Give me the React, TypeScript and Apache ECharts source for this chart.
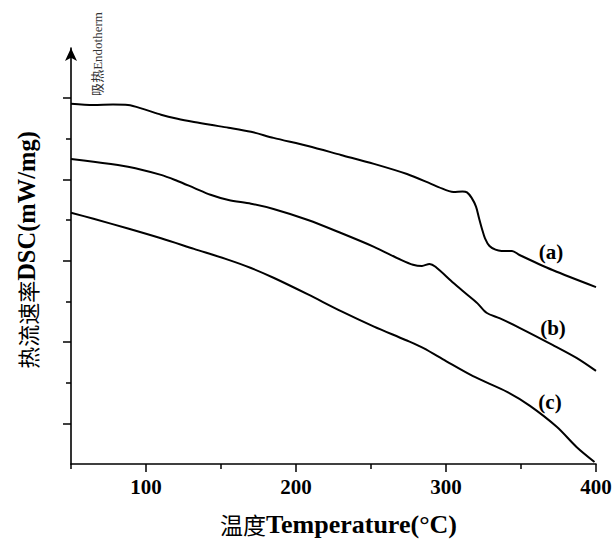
import React, { useEffect, useRef } from "react";
import * as echarts from "echarts";

const seriesNames = ["(a)", "(b)", "(c)"];

const curveA: [number, number][] = [
  [50, 8.86], [65, 8.83], [78, 8.84], [88, 8.83], [99, 8.72], [110, 8.59], [121, 8.49],
  [132, 8.41], [143, 8.34], [155, 8.27], [170, 8.17], [185, 8.02], [208, 7.82],
  [230, 7.6], [252, 7.38], [274, 7.13], [290, 6.89], [295, 6.81], [305, 6.69],
  [311, 6.7], [314, 6.68], [317, 6.55], [320, 6.33], [322, 6.05], [324, 5.78],
  [326, 5.55], [329, 5.36], [333, 5.27], [337, 5.24], [344, 5.24], [349, 5.14],
  [371, 4.77], [400, 4.35],
];

const curveB: [number, number][] = [
  [50, 7.5], [65, 7.43], [88, 7.31], [110, 7.11], [121, 6.96], [132, 6.79],
  [143, 6.62], [155, 6.49], [170, 6.4], [185, 6.27], [208, 6.0], [230, 5.68],
  [252, 5.34], [270, 5.02], [278, 4.9], [284, 4.87], [289, 4.92], [293, 4.85],
  [305, 4.45], [314, 4.17], [321, 3.95], [327, 3.72], [336, 3.58], [349, 3.35],
  [371, 2.93], [387, 2.61], [400, 2.29],
];

const curveC: [number, number][] = [
  [50, 6.18], [65, 6.03], [88, 5.79], [110, 5.55], [132, 5.29], [155, 5.02],
  [170, 4.82], [185, 4.58], [208, 4.17], [230, 3.76], [252, 3.38], [273, 3.05],
  [285, 2.85], [300, 2.53], [318, 2.16], [341, 1.77], [356, 1.43], [374, 0.91],
  [387, 0.42], [399, 0.05],
];

const xMajorTicks = [100, 200, 300, 400];
const xMinorTicks = [50, 150, 250, 350];
const yMajorTicks = [1, 3, 5, 7, 9];
const yMinorTicks = [2, 4, 6, 8];

const labelPos: [number, number][] = [
  [551, 252],
  [553, 328],
  [550, 402],
];

const SERIF = "'Liberation Serif', 'Times New Roman', serif";
const CJK = "'Noto Sans CJK SC', sans-serif";

export default function App() {
  const ref = useRef<HTMLDivElement>(null);
  useEffect(() => {
    if (!ref.current) return;
    const chart = echarts.init(ref.current, undefined, { renderer: "svg" });
    const yMax = 10.23;
    const option: any = {
      animation: false,
      backgroundColor: "#ffffff",
      grid: {
        left: 71,
        right: 18,
        top: 48,
        bottom: 76,
        containLabel: false,
        outerBoundsMode: "none",
      },
      xAxis: [
        {
          type: "value",
          min: 50,
          max: 400,
          name: "{cn|温度}{en|Temperature(°C)}",
          nameLocation: "middle",
          nameGap: 47,
          nameTextStyle: {
            padding: [0, 0, 0, 10],
            rich: {
              cn: { fontFamily: CJK, fontSize: 23, color: "#000", fontWeight: "normal" },
              en: { fontFamily: SERIF, fontSize: 26, color: "#000", fontWeight: "bold" },
            },
          },
          axisLine: { show: true, lineStyle: { color: "#000", width: 1.6 } },
          axisTick: {
            show: true,
            inside: false,
            length: 8,
            lineStyle: { color: "#000", width: 1.5 },
            customValues: xMajorTicks,
          },
          axisLabel: {
            show: true,
            customValues: xMajorTicks,
            fontFamily: SERIF,
            fontWeight: "bold",
            fontSize: 21,
            color: "#000",
            margin: 12,
          },
          splitLine: { show: false },
        },
        {
          type: "value",
          min: 50,
          max: 400,
          position: "bottom",
          axisLine: { show: false },
          axisTick: {
            show: true,
            inside: false,
            length: 5,
            lineStyle: { color: "#000", width: 1.5 },
            customValues: xMinorTicks,
          },
          axisLabel: { show: false },
          splitLine: { show: false },
        },
      ],
      yAxis: [
        {
          type: "value",
          min: 0,
          max: yMax,
          name: "{cn|热流速率}{en|DSC(mW/mg)}",
          nameLocation: "middle",
          nameRotate: 90,
          nameGap: 32,
          nameTextStyle: {
            padding: [0, 0, 0, 12],
            rich: {
              cn: { fontFamily: CJK, fontSize: 22, color: "#000", fontWeight: "normal" },
              en: { fontFamily: SERIF, fontSize: 24.5, color: "#000", fontWeight: "bold" },
            },
          },
          axisLine: {
            show: true,
            symbol: ["none", "arrow"],
            symbolSize: [9, 13],
            lineStyle: { color: "#000", width: 1.6 },
          },
          axisTick: {
            show: true,
            inside: false,
            length: 8,
            lineStyle: { color: "#000", width: 1.5 },
            customValues: yMajorTicks,
          },
          axisLabel: { show: false },
          splitLine: { show: false },
        },
        {
          type: "value",
          min: 0,
          max: yMax,
          position: "left",
          axisLine: { show: false },
          axisTick: {
            show: true,
            inside: false,
            length: 5,
            lineStyle: { color: "#000", width: 1.5 },
            customValues: yMinorTicks,
          },
          axisLabel: { show: false },
          splitLine: { show: false },
        },
      ],
      series: [curveA, curveB, curveC].map((d, i) => ({
        name: seriesNames[i],
        type: "line",
        data: d,
        xAxisIndex: 0,
        yAxisIndex: 0,
        showSymbol: false,
        smooth: 0.3,
        lineStyle: { color: "#000", width: 2 },
      })),
      graphic: [
        {
          type: "text",
          x: 97,
          y: 54,
          rotation: Math.PI / 2,
          style: {
            text: "吸热Endotherm",
            fontFamily: "'Liberation Serif', 'Noto Sans CJK SC', serif",
            fontSize: 13,
            fill: "#333",
            align: "center",
            verticalAlign: "middle",
          },
        },
        ...seriesNames.map((n, i) => ({
          type: "text",
          x: labelPos[i][0],
          y: labelPos[i][1],
          style: {
            text: n,
            fontFamily: SERIF,
            fontWeight: "bold",
            fontSize: 21,
            fill: "#000",
            align: "center",
            verticalAlign: "middle",
          },
        })),
      ],
    };
    chart.setOption(option);
    return () => chart.dispose();
  }, []);
  return (
    <div
      ref={ref}
      style={{ position: "fixed", left: 0, top: 0, width: 614, height: 540 }}
    />
  );
}
